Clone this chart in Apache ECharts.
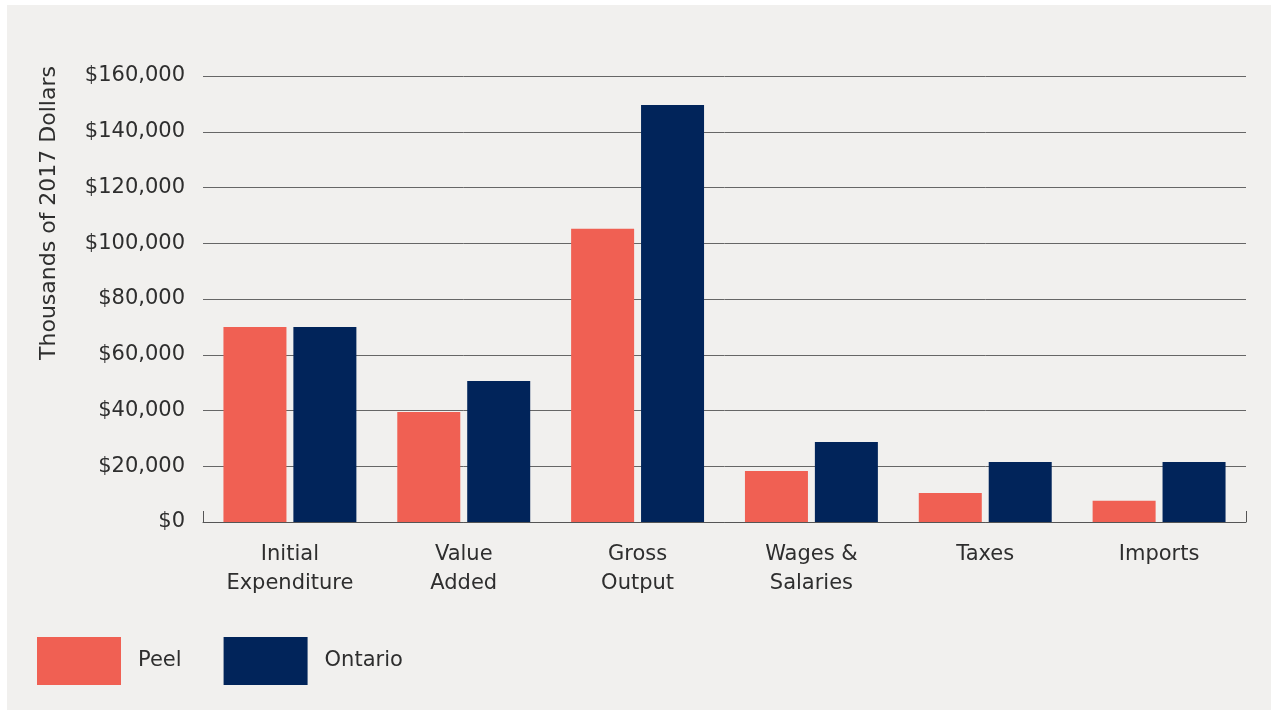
<!DOCTYPE html>
<html>
<head>
<meta charset="utf-8">
<script src="https://cdn.jsdelivr.net/npm/echarts@6/dist/echarts.min.js"></script>
<style>
  html, body { margin: 0; padding: 0; background: #ffffff; }
  #panel { position: absolute; left: 7px; top: 5px; width: 1264px; height: 705px; background: #f1f0ee; }
  #chart { position: absolute; left: 0; top: 0; width: 1278px; height: 710px; }
</style>
</head>
<body>
<div id="panel"></div>
<div id="chart"></div>
<script>
// Economic impact, thousands of 2017 dollars
const categories = ['Initial\nExpenditure', 'Value\nAdded', 'Gross\nOutput', 'Wages &\nSalaries', 'Taxes', 'Imports'];
const peel = [70000, 39500, 105200, 18300, 10400, 7600];
const ontario = [70000, 50600, 149600, 28700, 21500, 21500];
const yTicks = [0, 20000, 40000, 60000, 80000, 100000, 120000, 140000, 160000];

const FONT = '"DejaVu Sans", sans-serif';
const TEXT = '#2e2e2e';
const SIZE = 21;

const chart = echarts.init(document.getElementById('chart'), null, { renderer: 'canvas' });

chart.setOption({
  backgroundColor: 'transparent',
  animation: false,
  textStyle: { fontFamily: FONT },
  grid: { left: 203, right: 32, top: 76, bottom: 188, containLabel: false },
  legend: {
    left: 37,
    top: 637,
    padding: 0,
    itemWidth: 84,
    itemHeight: 48,
    itemGap: 42,
    icon: 'rect',
    textStyle: { fontFamily: FONT, fontSize: SIZE, color: TEXT, padding: [0, 0, 0, 12] },
    data: ['Peel', 'Ontario']
  },
  graphic: [{
    type: 'text',
    x: 49,
    y: 213,
    rotation: Math.PI / 2,
    style: {
      text: 'Thousands of 2017 Dollars',
      fontFamily: FONT,
      fontSize: 22,
      fill: TEXT,
      textAlign: 'center',
      textVerticalAlign: 'middle'
    }
  }],
  xAxis: {
    type: 'category',
    data: categories,
    boundaryGap: true,
    axisLine: { show: true, lineStyle: { color: '#555555', width: 1 } },
    axisTick: { show: true, inside: true, length: 11, interval: (i) => i === 0, lineStyle: { color: '#555555' } },
    axisLabel: { fontFamily: FONT, fontSize: SIZE, color: TEXT, lineHeight: 29, margin: 18, interval: 0 }
  },
  yAxis: {
    type: 'value',
    min: yTicks[0],
    max: yTicks[yTicks.length - 1],
    interval: yTicks[1] - yTicks[0],
    axisLine: { show: false },
    axisTick: { show: false },
    splitLine: { show: true, lineStyle: { color: '#666666', width: 1 } },
    axisLabel: {
      fontFamily: FONT, fontSize: SIZE, color: TEXT, margin: 18, padding: [6, 0, 0, 0],
      formatter: (v) => '$' + v.toLocaleString('en-US')
    }
  },
  series: [
    { name: 'Peel', type: 'bar', data: peel, barWidth: 63, barGap: '11%', itemStyle: { color: '#f06053' } },
    { name: 'Ontario', type: 'bar', data: ontario, barWidth: 63, itemStyle: { color: '#01245a' } }
  ]
});
</script>
</body>
</html>
